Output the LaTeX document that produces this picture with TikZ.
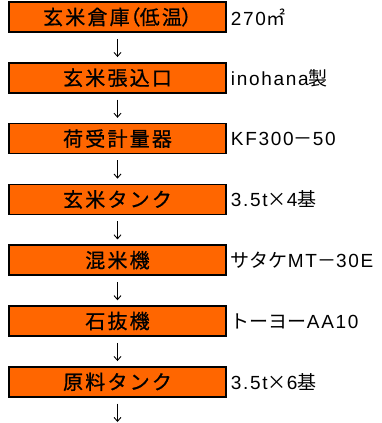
\documentclass[tikz,border=0pt]{standalone}
\usepackage{fontspec}
\setmainfont{Liberation Sans}[LetterSpace=9]
\newfontfamily\cjk{Noto Sans CJK JP}
\newfontfamily\boxfont{Noto Sans CJK JP}[LetterSpace=11,FakeBold=0.8]
\newfontfamily\boxfontp{Noto Sans CJK JP}[LetterSpace=11,FakeBold=0.8,RawFeature=+palt]
\usetikzlibrary{arrows.meta, positioning}

\begin{document}
\begin{tikzpicture}[x=1pt,y=-1pt,node distance=60.8pt,on grid,>={Straight Barb[length=4pt,width=7pt]},
      stage/.style={draw,line width=1.5pt,fill=orange1,minimum width=217pt,minimum height=30pt,
        inner sep=0pt,font=\boxfont\fontsize{20}{22}\selectfont},
      note/.style={anchor=west,inner sep=0pt,font=\fontsize{19}{21}\selectfont},
      flow/.style={->,line width=0.9pt,shorten <=6pt,shorten >=5pt}]
      \definecolor{orange1}{HTML}{FF6600}
      \useasboundingbox (0,0) rectangle (381,423);
      \node[stage] (s1) at (117.5,17) {玄米倉庫{\boxfontp （}低温{\boxfontp ）}};
      \node[stage] (s2) [below=of s1] {玄米張込口};
      \node[stage] (s3) [below=of s2] {荷受計量器};
      \node[stage] (s4) [below=of s3] {玄米タンク};
      \node[stage] (s5) [below=of s4] {混米機};
      \node[stage] (s6) [below=of s5] {石抜機};
      \node[stage] (s7) [below=of s6] {原料タンク};
      \coordinate (end) at (117.5,427);
      \node[note] (n1) at ([xshift=4pt]s1.east) {270{\cjk ㎡}};
      \node[note] (n2) at ([xshift=4pt]s2.east) {inohana{\cjk 製}};
      \node[note] (n3) at ([xshift=4pt]s3.east) {KF300{\cjk －}50};
      \node[note] (n4) at ([xshift=4pt]s4.east) {3.5t{\cjk ×}4{\cjk 基}};
      \node[note] (n5) at ([xshift=4pt]s5.east) {{\cjk サタケ}MT{\cjk －}30E};
      \node[note] (n6) at ([xshift=4pt]s6.east) {{\cjk トーヨー}AA10};
      \node[note] (n7) at ([xshift=4pt]s7.east) {3.5t{\cjk ×}6{\cjk 基}};
      \foreach \a/\b in {s1/s2,s2/s3,s3/s4,s4/s5,s5/s6,s6/s7,s7/end}
        \draw[flow] (\a) -- (\b);
    \end{tikzpicture}
\end{document}
